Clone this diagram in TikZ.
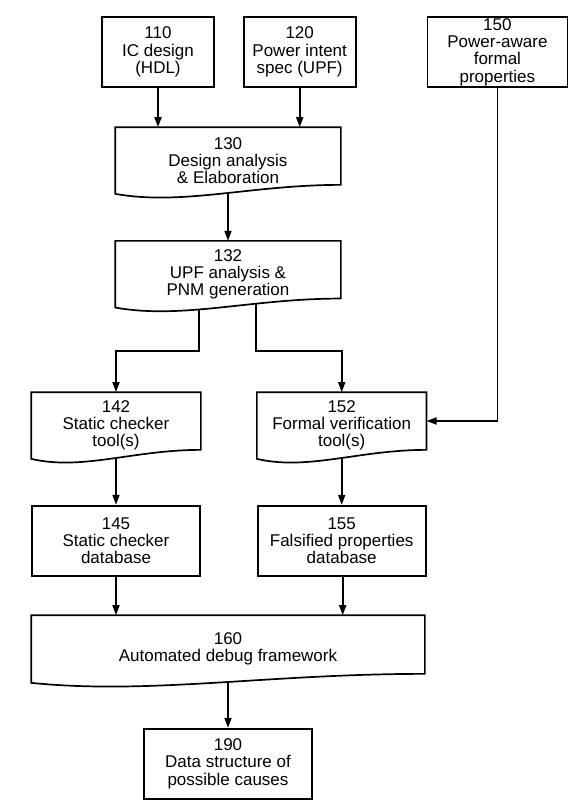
\documentclass[tikz,border=0pt]{standalone}
\usepackage{fontspec}
\setmainfont{Liberation Sans}
\usetikzlibrary{positioning,calc,arrows.meta}
\pgfdeclarelayer{edges}
\pgfdeclarelayer{boxes}
\pgfsetlayers{edges,boxes,main}

% box with a wavy bottom edge, drawn round a named node
\newcommand{\wavebox}[1]{%
  \draw[outline] (#1.north west) -- (#1.north east) -- ([yshift=9pt]#1.south east)
    .. controls ($(#1.south west)!0.6!(#1.south east)+(0,9)$)
    and ($(#1.south west)!0.3!(#1.south east)+(0,-12)$) .. (#1.south west) -- cycle;}

\begin{document}
\begin{tikzpicture}[x=1pt, y=1pt,
    box/.style={draw, fill=white, line width=1.7pt, inner sep=0pt, align=center,
      minimum width=168pt, minimum height=70pt, font=\fontsize{17}{17.3}\selectfont},
    doc/.style={box, draw=none, fill=none, minimum height=65pt},
    outline/.style={draw, fill=white, line width=1.7pt},
    flow/.style={line width=1.8pt, -{Triangle[length=10pt,width=7pt]}}]
  \useasboundingbox (0,0) rectangle (580,-812);

  \node[box, minimum width=112pt] (ic) at (158,-52) {110\\IC design\\(HDL)};
  \node[box, minimum width=112pt, right=28pt of ic] (upf) {120\\Power intent\\spec (UPF)};
  \node[box, minimum width=140pt, right=70pt of upf] (props) {150\\Power-aware\\formal\\properties};

  \node[doc, minimum width=224pt] (elab) at (228,-160.5) {130\\Design analysis\\\& Elaboration};
  \node[doc, minimum width=224pt, below=47pt of elab] (pnm) {132\\UPF analysis \&\\PNM generation};

  \node[doc] (stat) at (116,-425.5) {142\\Static checker\\tool(s)};
  \node[doc, right=56pt of stat] (formal) {152\\Formal verification\\tool(s)};
  \node[box, below=46pt of stat] (sdb) {145\\Static checker\\database};
  \node[box, below=46pt of formal] (fdb) {155\\Falsified properties\\database};

  \node[doc, minimum width=392pt, minimum height=66pt] (debug) at (228,-649) {160\\Automated debug framework};
  \node[box, below=45pt of debug] (causes) {190\\Data structure of\\possible causes};

  \begin{pgfonlayer}{boxes}
    \wavebox{elab}
    \wavebox{pnm}
    \wavebox{stat}
    \wavebox{formal}
    \wavebox{debug}
  \end{pgfonlayer}

  \begin{pgfonlayer}{edges}
    \draw[flow] (ic.south) -- (ic.south |- elab.north);
    \draw[flow] (upf.south) -- (upf.south |- elab.north);
    \draw[flow] (elab) -- (pnm.north);
    \draw[flow] ([xshift=-29pt]pnm.center) -- ++(0,-76.5) -| (stat.north);
    \draw[flow] ([xshift=28pt]pnm.center) -- ++(0,-76.5) -| (formal.north);
    \draw[flow] (props.south) |- ([yshift=4.5pt]formal.east);
    \draw[flow] (stat) -- (sdb.north);
    \draw[flow] (formal) -- (fdb.north);
    \draw[flow] (sdb.south) -- (sdb.south |- debug.north);
    \draw[flow] ([xshift=1pt]fdb.south) -- ([xshift=1pt]fdb.south |- debug.north);
    \draw[flow] (debug) -- (causes.north);
  \end{pgfonlayer}
\end{tikzpicture}
\end{document}
